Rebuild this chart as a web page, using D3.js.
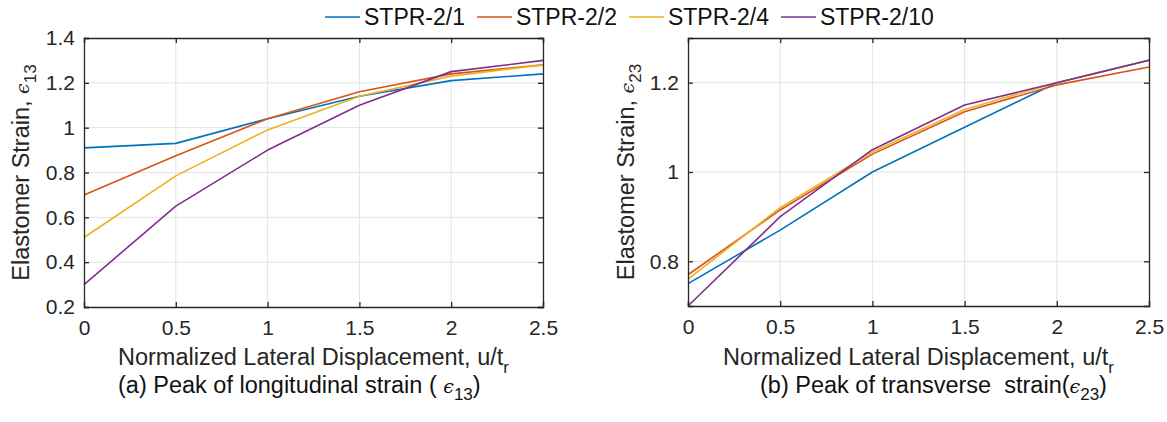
<!DOCTYPE html>
<html>
<head>
<meta charset="utf-8">
<script src="https://cdn.jsdelivr.net/npm/d3@7"></script>
<style>
  html, body { margin: 0; padding: 0; background: #fff; }
  svg { display: block; font-family: "Liberation Sans", Arial, Helvetica, sans-serif; }
  text { white-space: pre; }
</style>
</head>
<body>
<svg id="fig" width="1167" height="422"></svg>
<script>
// Normalized lateral displacement u/t_r
const displacement = [0, 0.5, 1, 1.5, 2, 2.5];

const seriesNames = ["STPR-2/1", "STPR-2/2", "STPR-2/4", "STPR-2/10"];
const seriesColors = ["#0072BD", "#D95319", "#EDB120", "#7E2F8E"];

// (a) peak longitudinal strain e13
const e13_2_1  = [0.91, 0.93, 1.04, 1.14, 1.21, 1.24];
const e13_2_2  = [0.70, 0.875, 1.04, 1.16, 1.24, 1.28];
const e13_2_4  = [0.51, 0.785, 0.99, 1.14, 1.23, 1.28];
const e13_2_10 = [0.30, 0.65, 0.90, 1.10, 1.25, 1.30];

// (b) peak transverse strain e23
const e23_2_1  = [0.75, 0.87, 1.00, 1.10, 1.20, 1.25];
const e23_2_2  = [0.77, 0.915, 1.04, 1.135, 1.195, 1.235];
const e23_2_4  = [0.76, 0.92, 1.045, 1.14, 1.20, 1.25];
const e23_2_10 = [0.70, 0.90, 1.05, 1.15, 1.20, 1.25];

const xTicks = [0, 0.5, 1, 1.5, 2, 2.5];
const yTicksA = [0.2, 0.4, 0.6, 0.8, 1, 1.2, 1.4];
const yTicksB = [0.8, 1, 1.2];

const svg = d3.select("#fig");
const axisColor = "#262626";
const gridColor = "#e3e3e3";
const fmt = v => String(+v.toFixed(2));

function panel(opts) {
  const { left, right, top, bottom, yDomain, yTicks, series, ySub, caption, captionX, yTitleX } = opts;
  const x = d3.scaleLinear().domain([0, 2.5]).range([left, right]);
  const y = d3.scaleLinear().domain(yDomain).range([bottom, top]);
  const g = svg.append("g");

  // grid
  g.append("g").selectAll("line").data(xTicks.slice(1, -1)).join("line")
    .attr("x1", d => x(d)).attr("x2", d => x(d)).attr("y1", top).attr("y2", bottom)
    .attr("stroke", gridColor).attr("stroke-width", 1);
  g.append("g").selectAll("line").data(yTicks.filter(d => d > yDomain[0] && d < yDomain[1])).join("line")
    .attr("x1", left).attr("x2", right).attr("y1", d => y(d)).attr("y2", d => y(d))
    .attr("stroke", gridColor).attr("stroke-width", 1);

  // series lines
  const line = d3.line().x((d, i) => x(displacement[i])).y(d => y(d));
  g.append("g").selectAll("path").data(series).join("path")
    .attr("d", d => line(d))
    .attr("fill", "none")
    .attr("stroke", (d, i) => seriesColors[i])
    .attr("stroke-width", 1.6)
    .attr("stroke-linejoin", "round");

  // box axes with inward ticks on all sides
  const tickLen = 5;
  const axB = d3.axisBottom(x).tickValues(xTicks).tickSize(-tickLen).tickPadding(13).tickFormat(fmt);
  const axT = d3.axisTop(x).tickValues(xTicks).tickSize(-tickLen).tickFormat("");
  const axL = d3.axisLeft(y).tickValues(yTicks).tickSize(-tickLen).tickPadding(9).tickFormat(fmt);
  const axR = d3.axisRight(y).tickValues(yTicks).tickSize(-tickLen).tickFormat("");

  const styleAxis = sel => {
    sel.select(".domain").attr("stroke", axisColor).attr("stroke-width", 1.3);
    sel.selectAll(".tick line").attr("stroke", axisColor).attr("stroke-width", 1.3);
    sel.selectAll(".tick text").attr("fill", axisColor).style("font-size", "21px")
      .style("font-family", "'Liberation Sans', Arial, sans-serif");
  };
  g.append("g").attr("transform", `translate(0,${bottom})`).call(axB).call(styleAxis);
  g.append("g").attr("transform", `translate(0,${top})`).call(axT).call(styleAxis);
  g.append("g").attr("transform", `translate(${left},0)`).call(axL).call(styleAxis);
  g.append("g").attr("transform", `translate(${right},0)`).call(axR).call(styleAxis);

  // x title
  const xt = g.append("text").attr("x", (left + right) / 2).attr("y", 365)
    .attr("text-anchor", "middle").attr("fill", axisColor).style("font-size", "23.5px");
  xt.append("tspan").text("Normalized Lateral Displacement, u/t");
  xt.append("tspan").attr("dy", 8).style("font-size", "17px").text("r");

  // y title
  const yt = g.append("text")
    .attr("transform", `translate(${yTitleX},${(top + bottom) / 2}) rotate(-90)`)
    .attr("text-anchor", "middle").attr("fill", axisColor).style("font-size", "23.5px");
  yt.append("tspan").text("Elastomer Strain, ");
  yt.append("tspan").style("font-style", "italic").style("font-family", "'DejaVu Serif', serif").style("font-size", "19px").text("\u03F5");
  yt.append("tspan").attr("dy", 7).style("font-size", "17px").text(ySub);

  // caption
  const cp = g.append("text").attr("x", captionX).attr("y", 393)
    .attr("fill", "#111").style("font-size", "23.5px");
  cp.append("tspan").text(caption[0]);
  cp.append("tspan").style("font-style", "italic").style("font-family", "'DejaVu Serif', serif").style("font-size", "19px").text("\u03F5");
  cp.append("tspan").attr("dy", 7).style("font-size", "17px").text(ySub);
  cp.append("tspan").attr("dy", -7).text(caption[1]);
}

panel({
  left: 84, right: 543, top: 38, bottom: 307,
  yDomain: [0.2, 1.4], yTicks: yTicksA,
  series: [e13_2_1, e13_2_2, e13_2_4, e13_2_10],
  ySub: "13", caption: ["(a) Peak of longitudinal strain ( ", ")"], captionX: 118, yTitleX: 29
});

panel({
  left: 688, right: 1149, top: 38, bottom: 306,
  yDomain: [0.7, 1.3], yTicks: yTicksB,
  series: [e23_2_1, e23_2_2, e23_2_4, e23_2_10],
  ySub: "23", caption: ["(b) Peak of transverse  strain(", ")"], captionX: 760, yTitleX: 634
});

// legend across the top
const legend = svg.append("g");
let lx = 325;
const ly = 17;
seriesNames.forEach((name, i) => {
  legend.append("line").attr("x1", lx).attr("x2", lx + 35).attr("y1", ly).attr("y2", ly)
    .attr("stroke", seriesColors[i]).attr("stroke-width", 1.6);
  const t = legend.append("text").attr("x", lx + 39).attr("y", ly).attr("dy", "0.36em")
    .attr("fill", "#111").style("font-size", "23px").text(name);
  lx += 39 + t.node().getComputedTextLength() + 12;
});
</script>
</body>
</html>
